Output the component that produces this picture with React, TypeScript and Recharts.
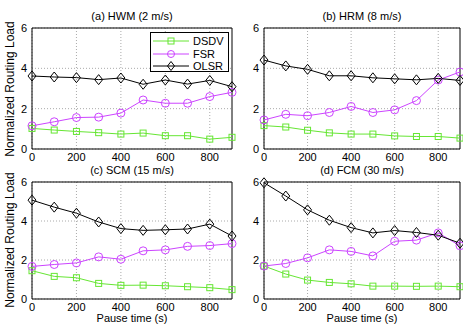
import React from "react";
import {
  LineChart,
  Line,
  XAxis,
  YAxis,
  CartesianGrid,
  ReferenceArea,
  Legend,
} from "recharts";

const pauseTimes = [0, 100, 200, 300, 400, 500, 600, 700, 800, 900];
const xTicks = [0, 200, 400, 600, 800];
const yTicks = [0, 2, 4, 6];
const seriesNames = ["DSDV", "FSR", "OLSR"];

const hwmDsdv = [1.02, 0.94, 0.87, 0.81, 0.74, 0.79, 0.66, 0.66, 0.49, 0.58];
const hwmFsr = [1.15, 1.35, 1.56, 1.58, 1.78, 2.43, 2.27, 2.27, 2.6, 2.81];
const hwmOlsr = [3.62, 3.57, 3.54, 3.44, 3.52, 3.21, 3.42, 3.22, 3.4, 3.09];

const hrmDsdv = [1.16, 1.09, 0.93, 0.8, 0.74, 0.74, 0.65, 0.62, 0.62, 0.54];
const hrmFsr = [1.44, 1.72, 1.65, 1.81, 2.11, 1.81, 1.94, 2.4, 3.42, 3.82];
const hrmOlsr = [4.41, 4.12, 3.95, 3.63, 3.63, 3.53, 3.48, 3.43, 3.5, 3.4];

const scmDsdv = [1.45, 1.16, 1.09, 0.8, 0.7, 0.71, 0.68, 0.63, 0.58, 0.48];
const scmFsr = [1.67, 1.77, 1.85, 2.16, 2.04, 2.47, 2.52, 2.7, 2.74, 2.84];
const scmOlsr = [5.07, 4.71, 4.4, 3.95, 3.61, 3.52, 3.55, 3.59, 3.84, 3.23];

const fcmDsdv = [1.69, 1.28, 0.97, 0.85, 0.78, 0.66, 0.66, 0.65, 0.66, 0.63];
const fcmFsr = [1.69, 1.82, 2.11, 2.52, 2.44, 2.21, 2.96, 3.02, 3.39, 2.73];
const fcmOlsr = [5.96, 5.28, 4.57, 4.04, 3.66, 3.39, 3.51, 3.41, 3.27, 2.86];

const GREEN = "#66e633";
const VIOLET = "#cc44ff";
const BLACK = "#000000";
const FONT = "'Liberation Sans', Arial, sans-serif";

const buildRows = (dsdv: number[], fsr: number[], olsr: number[]) =>
  pauseTimes.map((t, i) => ({ t, dsdv: dsdv[i], fsr: fsr[i], olsr: olsr[i] }));

const square = (color: string) => (p: any) => (
  <rect key={p.index} x={p.cx - 3} y={p.cy - 3} width={6} height={6} fill="none" stroke={color} strokeWidth={1} />
);
const circle = (color: string) => (p: any) => (
  <circle key={p.index} cx={p.cx} cy={p.cy} r={4} fill="none" stroke={color} strokeWidth={1} />
);
const diamond = (color: string) => (p: any) => (
  <path
    key={p.index}
    d={`M${p.cx},${p.cy - 5}L${p.cx + 4},${p.cy}L${p.cx},${p.cy + 5}L${p.cx - 4},${p.cy}Z`}
    fill="none"
    stroke={color}
    strokeWidth={1}
  />
);

const LegendBox = () => {
  const items = [
    { name: seriesNames[0], color: GREEN, mark: <rect x={15} y={3} width={6} height={6} fill="none" stroke={GREEN} /> },
    { name: seriesNames[1], color: VIOLET, mark: <circle cx={18} cy={6} r={3.5} fill="none" stroke={VIOLET} /> },
    { name: seriesNames[2], color: BLACK, mark: <path d="M18,1.5L21.5,6L18,10.5L14.5,6Z" fill="none" stroke={BLACK} /> },
  ];
  return (
    <div
      style={{
        width: 79,
        height: 40,
        border: "1px solid #000",
        background: "#fff",
        fontFamily: FONT,
        fontSize: 11,
        paddingTop: 2,
        boxSizing: "border-box",
      }}
    >
      {items.map((it) => (
        <div key={it.name} style={{ display: "flex", alignItems: "center", height: 12.5 }}>
          <svg width={37} height={12} style={{ marginLeft: 2 }}>
            <line x1={0} y1={6} x2={36} y2={6} stroke={it.color} strokeWidth={1} />
            {it.mark}
          </svg>
          <span style={{ marginLeft: 3 }}>{it.name}</span>
        </div>
      ))}
    </div>
  );
};

interface PanelProps {
  rows: any[];
  left: number;
  plotLeft: number;
  plotTop: number;
  plotW: number;
  plotH: number;
  legend?: boolean;
}

const Panel = ({ rows, left, plotLeft, plotTop, plotW, plotH, legend }: PanelProps) => {
  const yw = plotLeft - left;
  const w = yw + plotW + 6;
  const h = 8 + plotH + 20;
  return (
    <div style={{ position: "absolute", left, top: plotTop - 8 }}>
      <LineChart width={w} height={h} data={rows} margin={{ top: 8, right: 6, left: 0, bottom: 0 }}>
        <CartesianGrid stroke="#aaa" strokeDasharray="1 2" horizontalValues={yTicks} verticalValues={xTicks} />
        <XAxis
          dataKey="t"
          type="number"
          domain={[0, 900]}
          ticks={xTicks}
          height={20}
          tickLine={false}
          tickSize={2}
          axisLine={false}
          tick={{ fill: "#000", fontSize: 11, fontFamily: FONT }}
        />
        <YAxis
          type="number"
          domain={[0, 6]}
          ticks={yTicks}
          width={yw}
          tickLine={false}
          tickSize={3}
          tickMargin={2}
          axisLine={false}
          tick={{ fill: "#000", fontSize: 11, fontFamily: FONT }}
        />
        <ReferenceArea x1={0} x2={900} y1={0} y2={6} fill="none" stroke="#000" strokeWidth={1} fillOpacity={0} />
        <Line dataKey="dsdv" name={seriesNames[0]} stroke={GREEN} strokeWidth={1} dot={square(GREEN)} isAnimationActive={false} />
        <Line dataKey="fsr" name={seriesNames[1]} stroke={VIOLET} strokeWidth={1} dot={circle(VIOLET)} isAnimationActive={false} />
        <Line dataKey="olsr" name={seriesNames[2]} stroke={BLACK} strokeWidth={1} dot={diamond(BLACK)} isAnimationActive={false} />
        {legend && (
          <Legend
            layout="horizontal"
            verticalAlign="middle"
            align="center"
            content={() => <LegendBox />}
            wrapperStyle={{ position: "absolute", left: 150 - left, top: 32 - (plotTop - 8), width: 79 }}
          />
        )}
      </LineChart>
    </div>
  );
};

const Label = ({ text, x, y, rotate }: { text: string; x: number; y: number; rotate?: boolean }) => (
  <div
    style={{
      position: "absolute",
      left: x,
      top: y,
      transform: `translate(-50%, -50%)${rotate ? " rotate(-90deg)" : ""}`,
      whiteSpace: "nowrap",
      fontFamily: FONT,
      fontSize: rotate ? 12 : 11,
      color: "#000",
    }}
  >
    {text}
  </div>
);

export default function App() {
  return (
    <div style={{ position: "absolute", left: 0, top: 0, width: 463, height: 327, background: "#fff", overflow: "hidden" }}>
      <Panel rows={buildRows(hwmDsdv, hwmFsr, hwmOlsr)} left={0} plotLeft={32} plotTop={28} plotW={200} plotH={121} legend />
      <Panel rows={buildRows(hrmDsdv, hrmFsr, hrmOlsr)} left={232} plotLeft={264} plotTop={28} plotW={196} plotH={121} />
      <Panel rows={buildRows(scmDsdv, scmFsr, scmOlsr)} left={0} plotLeft={32} plotTop={182} plotW={200} plotH={117} />
      <Panel rows={buildRows(fcmDsdv, fcmFsr, fcmOlsr)} left={232} plotLeft={264} plotTop={182} plotW={196} plotH={117} />
      <Label text="(a) HWM (2 m/s)" x={132} y={16} />
      <Label text="(b) HRM (8 m/s)" x={362} y={16} />
      <Label text="(c) SCM (15 m/s)" x={132} y={170} />
      <Label text="(d) FCM (30 m/s)" x={362} y={170} />
      <Label text="Pause time (s)" x={132} y={318} />
      <Label text="Pause time (s)" x={362} y={318} />
      <Label text="Normalized Routing Load" x={10} y={89} rotate />
      <Label text="Normalized Routing Load" x={10} y={240} rotate />
    </div>
  );
}
